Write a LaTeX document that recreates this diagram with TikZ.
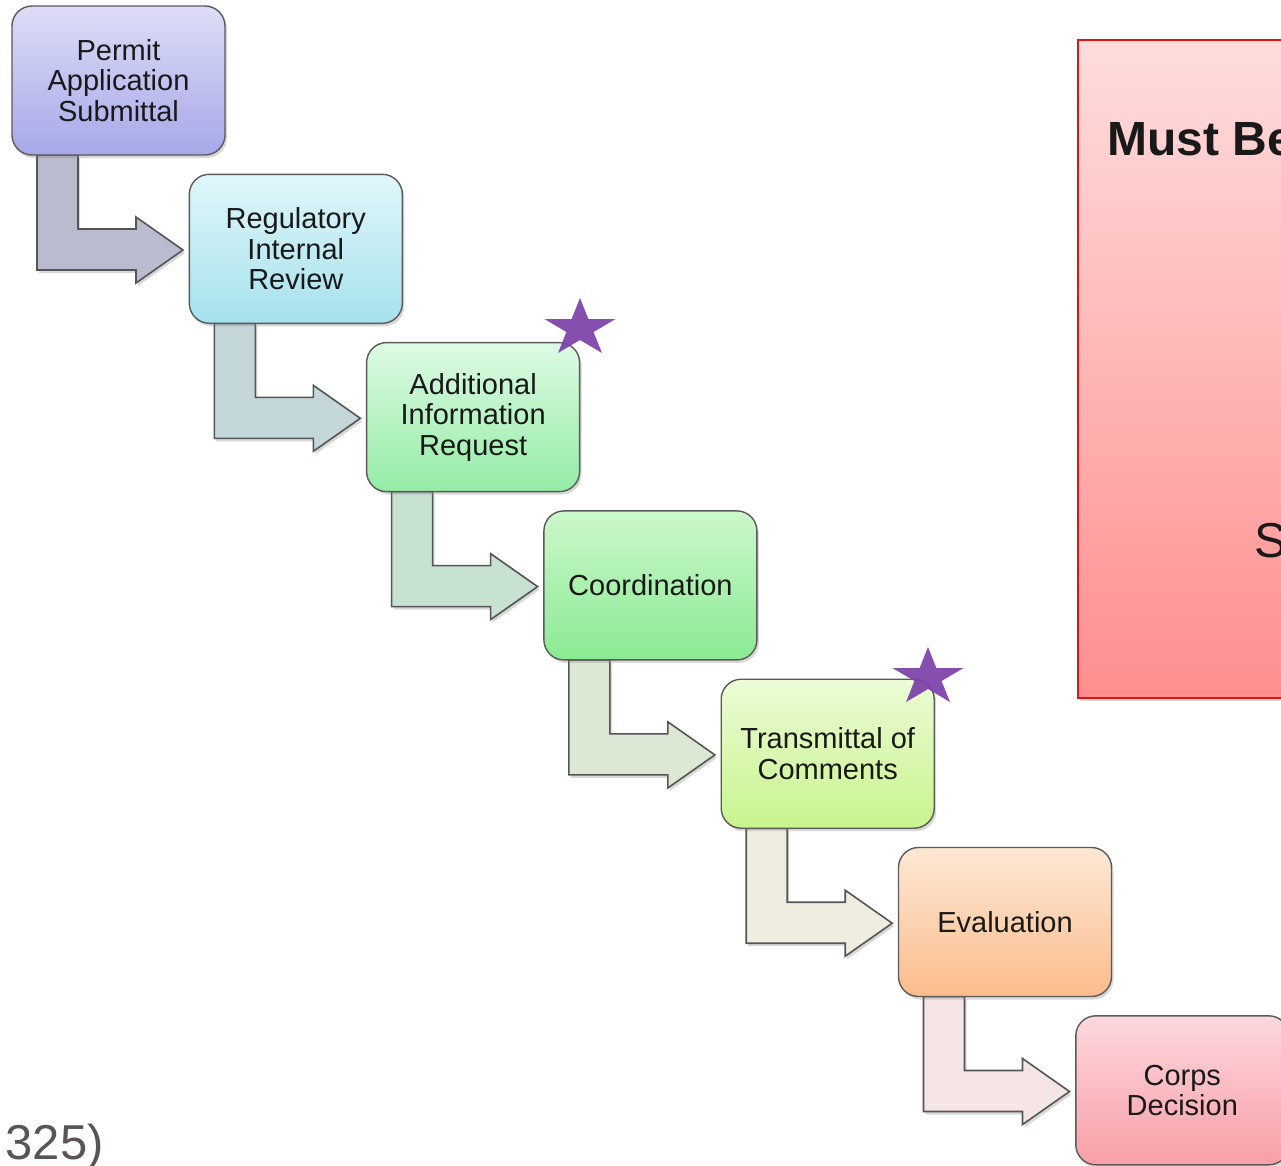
\documentclass[tikz,border=0pt]{standalone}
\usepackage{fontspec}
\setmainfont{Liberation Sans}
\usetikzlibrary{shadows,backgrounds}
\definecolor{boxline}{RGB}{90,90,90}
\definecolor{arrowline}{RGB}{85,85,85}
\definecolor{textcol}{RGB}{25,25,25}
\definecolor{bAt}{RGB}{221,221,247}\definecolor{bAb}{RGB}{166,168,232}
\definecolor{bBt}{RGB}{224,247,251}\definecolor{bBb}{RGB}{166,225,236}
\definecolor{bCt}{RGB}{222,251,228}\definecolor{bCb}{RGB}{148,236,166}
\definecolor{bDt}{RGB}{204,248,204}\definecolor{bDb}{RGB}{138,234,146}
\definecolor{bEt}{RGB}{236,252,214}\definecolor{bEb}{RGB}{200,244,140}
\definecolor{bFt}{RGB}{253,232,212}\definecolor{bFb}{RGB}{251,188,140}
\definecolor{bGt}{RGB}{253,216,222}\definecolor{bGb}{RGB}{249,158,166}
\definecolor{aA}{RGB}{185,187,206}
\definecolor{aB}{RGB}{195,215,218}
\definecolor{aC}{RGB}{200,226,210}
\definecolor{aD}{RGB}{220,232,211}
\definecolor{aE}{RGB}{241,236,224}
\definecolor{aF}{RGB}{245,230,229}
\definecolor{starcol}{RGB}{123,63,169}
\definecolor{panelt}{RGB}{255,221,221}
\definecolor{panelb}{RGB}{255,142,142}
\definecolor{panelline}{RGB}{222,20,20}
\definecolor{greytext}{RGB}{90,84,86}
\begin{document}
\begin{tikzpicture}[x=1pt,y=-1pt,
  stepbox/.style={draw=boxline, line width=1.4pt, rounded corners=20pt,
    minimum width=213pt, minimum height=149pt, anchor=north west,
    align=center, inner sep=0pt, outer sep=0pt,
    font=\fontsize{29}{30.5}\selectfont, text=textcol,
    drop shadow={shadow xshift=2pt, shadow yshift=-3pt, opacity=0.3}},
  bentarrow/.style={draw=arrowline, line width=1.6pt, line join=miter,
    drop shadow={shadow xshift=2pt, shadow yshift=-3pt, opacity=0.3}},
  bigtext/.style={font=\fontsize{49}{56}\selectfont, inner sep=0pt, text=textcol}]
\useasboundingbox (0,0) rectangle (1281,1165);
\clip (0,0) rectangle (1281,1165);

% right panel
\node[draw=panelline, line width=1.6pt, top color=panelt, bottom color=panelb,
  minimum width=240pt, minimum height=658pt, anchor=north west, inner sep=0pt,
  drop shadow={shadow xshift=2pt, shadow yshift=-3pt, opacity=0.3}] (panel) at (1077,39) {};
\node[bigtext, font=\fontsize{48}{56}\selectfont\bfseries, anchor=base west] (must) at (1107,155) {Must Be};
\node[bigtext, anchor=base west] (sletter) at (1254,557) {S};

% step boxes
\node[stepbox, top color=bAt, bottom color=bAb] (b1) at (12,6) {Permit\\Application\\Submittal};
\node[stepbox, top color=bBt, bottom color=bBb] (b2) at (189.3,174.3) {Regulatory\\Internal\\Review};
\node[stepbox, top color=bCt, bottom color=bCb] (b3) at (366.6,342.6) {Additional\\Information\\Request};
\node[stepbox, top color=bDt, bottom color=bDb] (b4) at (543.9,510.9) {Coordination};
\node[stepbox, top color=bEt, bottom color=bEb] (b5) at (721.2,679.2) {Transmittal of\\Comments};
\node[stepbox, top color=bFt, bottom color=bFb] (b6) at (898.5,847.5) {Evaluation};
\node[stepbox, top color=bGt, bottom color=bGb] (b7) at (1075.8,1015.8) {Corps\\Decision};

% bent arrows (behind the boxes)
\begin{scope}[on background layer]
\fill[white] (0,0) rectangle (1281,1165);
\foreach \i/\c in {1/aA,2/aB,3/aC,4/aD,5/aE,6/aF}{
  \draw[bentarrow, fill=\c] (b\i.south west) ++(25,0) -- ++(0,115) -- ++(99,0)
    -- ++(0,13) -- ++(47,-33) -- ++(-47,-33) -- ++(0,12) -- ++(-58,0) -- ++(0,-74) -- cycle;
}
\end{scope}

% stars
\begin{scope}[shift={(580,328.4)}, xscale=1.23]
\fill[starcol, opacity=0.92] (-90:30.4) -- (-54:11.6) -- (-18:30.4) -- (18:11.6) -- (54:30.4)
  -- (90:11.6) -- (126:30.4) -- (162:11.6) -- (198:30.4) -- (234:11.6) -- cycle;
\end{scope}
\begin{scope}[shift={(928,677.4)}, xscale=1.23]
\fill[starcol, opacity=0.92] (-90:30.4) -- (-54:11.6) -- (-18:30.4) -- (18:11.6) -- (54:30.4)
  -- (90:11.6) -- (126:30.4) -- (162:11.6) -- (198:30.4) -- (234:11.6) -- cycle;
\end{scope}

% bottom-left text
\node[bigtext, text=greytext, anchor=base east] (cfr) at (104,1159) {325)};
\end{tikzpicture}
\end{document}
